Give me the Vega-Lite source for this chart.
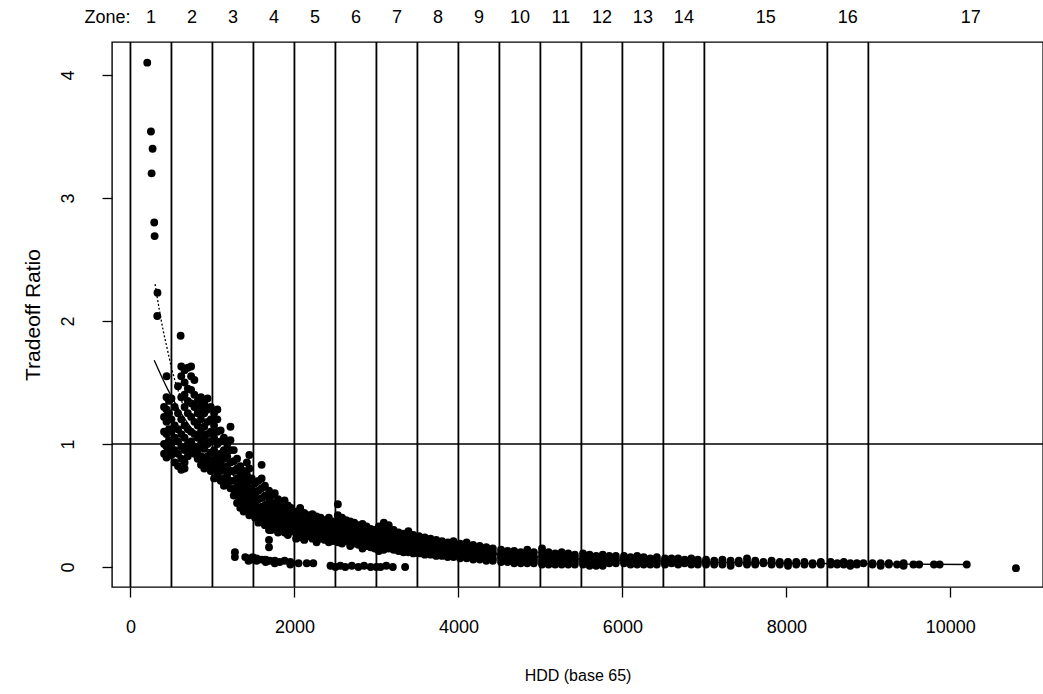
{
  "$schema": "https://vega.github.io/schema/vega-lite/v6.json",
  "width": 931,
  "height": 545,
  "autosize": {"type": "none"},
  "padding": {"left": 112, "top": 42, "right": 0, "bottom": 107},
  "background": "white",
  "config": {
    "view": {"stroke": "black", "strokeWidth": 1.4},
    "font": "Liberation Sans",
    "axis": {"grid": false, "domain": false, "tickColor": "black", "tickSize": 10, "tickWidth": 1.3, "labelColor": "black", "titleColor": "black", "labelFont": "Liberation Sans", "titleFont": "Liberation Sans", "labelFontSize": 18, "titleFontSize": 16, "titleFontWeight": "normal"}
  },
  "datasets": {
    "bounds": [{"hdd":0},{"hdd":500},{"hdd":1000},{"hdd":1500},{"hdd":2000},{"hdd":2500},{"hdd":3000},{"hdd":3500},{"hdd":4000},{"hdd":4500},{"hdd":5000},{"hdd":5500},{"hdd":6000},{"hdd":6500},{"hdd":7000},{"hdd":8500},{"hdd":9000}],
    "zones": [{"zone":"1","mid":250},{"zone":"2","mid":750},{"zone":"3","mid":1250},{"zone":"4","mid":1750},{"zone":"5","mid":2250},{"zone":"6","mid":2750},{"zone":"7","mid":3250},{"zone":"8","mid":3750},{"zone":"9","mid":4250},{"zone":"10","mid":4750},{"zone":"11","mid":5250},{"zone":"12","mid":5750},{"zone":"13","mid":6250},{"zone":"14","mid":6750},{"zone":"15","mid":7750},{"zone":"16","mid":8750},{"zone":"17","mid":10250}],
    "solid": [{"hdd":290,"ratio":1.68},{"hdd":450,"ratio":1.45},{"hdd":600,"ratio":1.27},{"hdd":750,"ratio":1.12},{"hdd":868,"ratio":1.01},{"hdd":1000,"ratio":0.92},{"hdd":1200,"ratio":0.78},{"hdd":1500,"ratio":0.6},{"hdd":2000,"ratio":0.4},{"hdd":2500,"ratio":0.3},{"hdd":3000,"ratio":0.22},{"hdd":3500,"ratio":0.17},{"hdd":4000,"ratio":0.13},{"hdd":5000,"ratio":0.08},{"hdd":6000,"ratio":0.055},{"hdd":7000,"ratio":0.04},{"hdd":8000,"ratio":0.03},{"hdd":9000,"ratio":0.025},{"hdd":10200,"ratio":0.02}],
    "dotted": [{"hdd":300,"ratio":2.3},{"hdd":350,"ratio":2.1},{"hdd":400,"ratio":1.92},{"hdd":450,"ratio":1.77},{"hdd":500,"ratio":1.62},{"hdd":550,"ratio":1.5},{"hdd":600,"ratio":1.4},{"hdd":650,"ratio":1.3},{"hdd":700,"ratio":1.22}],
    "pts": [
{"hdd":205,"ratio":4.1},{"hdd":250,"ratio":3.54},{"hdd":270,"ratio":3.4},{"hdd":258,"ratio":3.2},{"hdd":290,"ratio":2.8},{"hdd":295,"ratio":2.69},{"hdd":330,"ratio":2.23},{"hdd":327,"ratio":2.04},{"hdd":612,"ratio":1.88},{"hdd":441,"ratio":1.55},
{"hdd":410,"ratio":1.3},{"hdd":410,"ratio":1.22},{"hdd":410,"ratio":1.1},{"hdd":410,"ratio":1.0},{"hdd":410,"ratio":0.92},
{"hdd":440,"ratio":1.38},{"hdd":440,"ratio":1.28},{"hdd":440,"ratio":1.18},{"hdd":440,"ratio":1.08},{"hdd":440,"ratio":0.98},{"hdd":440,"ratio":0.89},
{"hdd":470,"ratio":1.35},{"hdd":470,"ratio":1.25},{"hdd":470,"ratio":1.12},{"hdd":470,"ratio":1.03},{"hdd":470,"ratio":0.95},
{"hdd":500,"ratio":1.37},{"hdd":500,"ratio":1.2},{"hdd":500,"ratio":1.1},{"hdd":500,"ratio":1.0},{"hdd":500,"ratio":0.91},
{"hdd":540,"ratio":1.3},{"hdd":540,"ratio":1.15},{"hdd":540,"ratio":1.05},{"hdd":540,"ratio":0.95},{"hdd":540,"ratio":0.85},
{"hdd":580,"ratio":1.47},{"hdd":580,"ratio":1.25},{"hdd":580,"ratio":1.12},{"hdd":580,"ratio":1.02},{"hdd":580,"ratio":0.92},{"hdd":580,"ratio":0.82},
{"hdd":620,"ratio":1.63},{"hdd":620,"ratio":1.55},{"hdd":620,"ratio":1.38},{"hdd":620,"ratio":1.2},{"hdd":620,"ratio":1.08},{"hdd":620,"ratio":0.98},{"hdd":620,"ratio":0.88},{"hdd":620,"ratio":0.79},
{"hdd":660,"ratio":1.6},{"hdd":660,"ratio":1.5},{"hdd":660,"ratio":1.4},{"hdd":660,"ratio":1.3},{"hdd":660,"ratio":1.15},{"hdd":660,"ratio":1.05},{"hdd":660,"ratio":0.95},{"hdd":660,"ratio":0.85},{"hdd":660,"ratio":0.8},
{"hdd":700,"ratio":1.62},{"hdd":700,"ratio":1.45},{"hdd":700,"ratio":1.35},{"hdd":700,"ratio":1.25},{"hdd":700,"ratio":1.12},{"hdd":700,"ratio":1.0},{"hdd":700,"ratio":0.9},
{"hdd":740,"ratio":1.63},{"hdd":740,"ratio":1.55},{"hdd":740,"ratio":1.44},{"hdd":740,"ratio":1.33},{"hdd":740,"ratio":1.22},{"hdd":740,"ratio":1.1},{"hdd":740,"ratio":1.02},{"hdd":740,"ratio":0.95},
{"hdd":780,"ratio":1.52},{"hdd":780,"ratio":1.4},{"hdd":780,"ratio":1.3},{"hdd":780,"ratio":1.18},{"hdd":780,"ratio":1.08},{"hdd":780,"ratio":0.98},{"hdd":780,"ratio":0.92},
{"hdd":820,"ratio":1.35},{"hdd":820,"ratio":1.25},{"hdd":820,"ratio":1.15},{"hdd":820,"ratio":1.05},{"hdd":820,"ratio":0.95},{"hdd":820,"ratio":0.88},
{"hdd":860,"ratio":1.38},{"hdd":860,"ratio":1.3},{"hdd":860,"ratio":1.2},{"hdd":860,"ratio":1.1},{"hdd":860,"ratio":1.0},{"hdd":860,"ratio":0.9},{"hdd":860,"ratio":0.83},
{"hdd":900,"ratio":1.33},{"hdd":900,"ratio":1.25},{"hdd":900,"ratio":1.14},{"hdd":900,"ratio":1.05},{"hdd":900,"ratio":0.96},{"hdd":900,"ratio":0.86},{"hdd":900,"ratio":0.8},
{"hdd":940,"ratio":1.37},{"hdd":940,"ratio":1.28},{"hdd":940,"ratio":1.18},{"hdd":940,"ratio":1.08},{"hdd":940,"ratio":1.0},{"hdd":940,"ratio":0.9},{"hdd":940,"ratio":0.82},
{"hdd":980,"ratio":1.3},{"hdd":980,"ratio":1.2},{"hdd":980,"ratio":1.1},{"hdd":980,"ratio":1.02},{"hdd":980,"ratio":0.93},{"hdd":980,"ratio":0.85},{"hdd":980,"ratio":0.78},
{"hdd":1020,"ratio":1.25},{"hdd":1020,"ratio":1.15},{"hdd":1020,"ratio":1.05},{"hdd":1020,"ratio":0.95},{"hdd":1020,"ratio":0.87},{"hdd":1020,"ratio":0.8},{"hdd":1020,"ratio":0.72},
{"hdd":1060,"ratio":1.28},{"hdd":1060,"ratio":1.2},{"hdd":1060,"ratio":1.1},{"hdd":1060,"ratio":1.0},{"hdd":1060,"ratio":0.9},{"hdd":1060,"ratio":0.82},{"hdd":1060,"ratio":0.75},
{"hdd":1100,"ratio":1.11},{"hdd":1100,"ratio":1.02},{"hdd":1100,"ratio":0.92},{"hdd":1100,"ratio":0.85},{"hdd":1100,"ratio":0.78},{"hdd":1100,"ratio":0.7},
{"hdd":1140,"ratio":1.05},{"hdd":1140,"ratio":0.95},{"hdd":1140,"ratio":0.88},{"hdd":1140,"ratio":0.8},{"hdd":1140,"ratio":0.72},{"hdd":1140,"ratio":0.66},
{"hdd":1180,"ratio":1.0},{"hdd":1180,"ratio":0.9},{"hdd":1180,"ratio":0.82},{"hdd":1180,"ratio":0.75},{"hdd":1180,"ratio":0.68},
{"hdd":1220,"ratio":1.14},{"hdd":1220,"ratio":1.03},{"hdd":1220,"ratio":0.95},{"hdd":1220,"ratio":0.85},{"hdd":1220,"ratio":0.78},{"hdd":1220,"ratio":0.7},{"hdd":1220,"ratio":0.64},
{"hdd":1260,"ratio":0.95},{"hdd":1260,"ratio":0.86},{"hdd":1260,"ratio":0.78},{"hdd":1260,"ratio":0.7},{"hdd":1260,"ratio":0.63},{"hdd":1260,"ratio":0.58},
{"hdd":1300,"ratio":0.88},{"hdd":1300,"ratio":0.8},{"hdd":1300,"ratio":0.72},{"hdd":1300,"ratio":0.65},{"hdd":1300,"ratio":0.58},{"hdd":1300,"ratio":0.52},
{"hdd":1340,"ratio":0.82},{"hdd":1340,"ratio":0.75},{"hdd":1340,"ratio":0.68},{"hdd":1340,"ratio":0.6},{"hdd":1340,"ratio":0.54},{"hdd":1340,"ratio":0.48},
{"hdd":1380,"ratio":0.78},{"hdd":1380,"ratio":0.7},{"hdd":1380,"ratio":0.63},{"hdd":1380,"ratio":0.56},{"hdd":1380,"ratio":0.5},{"hdd":1380,"ratio":0.45},
{"hdd":1420,"ratio":0.85},{"hdd":1420,"ratio":0.75},{"hdd":1420,"ratio":0.66},{"hdd":1420,"ratio":0.58},{"hdd":1420,"ratio":0.52},{"hdd":1420,"ratio":0.46},
{"hdd":1450,"ratio":0.91},{"hdd":1450,"ratio":0.8},{"hdd":1450,"ratio":0.7},{"hdd":1450,"ratio":0.62},{"hdd":1450,"ratio":0.55},{"hdd":1450,"ratio":0.48},{"hdd":1450,"ratio":0.42},
{"hdd":1480,"ratio":0.72},{"hdd":1480,"ratio":0.64},{"hdd":1480,"ratio":0.57},{"hdd":1480,"ratio":0.5},{"hdd":1480,"ratio":0.44},
{"hdd":1520,"ratio":0.68},{"hdd":1520,"ratio":0.6},{"hdd":1520,"ratio":0.52},{"hdd":1520,"ratio":0.46},{"hdd":1520,"ratio":0.4},
{"hdd":1560,"ratio":0.7},{"hdd":1560,"ratio":0.62},{"hdd":1560,"ratio":0.55},{"hdd":1560,"ratio":0.48},{"hdd":1560,"ratio":0.42},{"hdd":1560,"ratio":0.36},
{"hdd":1600,"ratio":0.83},{"hdd":1600,"ratio":0.72},{"hdd":1600,"ratio":0.64},{"hdd":1600,"ratio":0.56},{"hdd":1600,"ratio":0.49},{"hdd":1600,"ratio":0.43},{"hdd":1600,"ratio":0.38},
{"hdd":1640,"ratio":0.66},{"hdd":1640,"ratio":0.58},{"hdd":1640,"ratio":0.5},{"hdd":1640,"ratio":0.44},{"hdd":1640,"ratio":0.39},{"hdd":1640,"ratio":0.34},
{"hdd":1690,"ratio":0.62},{"hdd":1690,"ratio":0.55},{"hdd":1690,"ratio":0.48},{"hdd":1690,"ratio":0.42},{"hdd":1690,"ratio":0.37},{"hdd":1690,"ratio":0.3},{"hdd":1690,"ratio":0.22},{"hdd":1690,"ratio":0.16},
{"hdd":1720,"ratio":0.58},{"hdd":1720,"ratio":0.51},{"hdd":1720,"ratio":0.45},{"hdd":1720,"ratio":0.4},{"hdd":1720,"ratio":0.35},{"hdd":1720,"ratio":0.3},
{"hdd":1760,"ratio":0.6},{"hdd":1760,"ratio":0.52},{"hdd":1760,"ratio":0.46},{"hdd":1760,"ratio":0.4},{"hdd":1760,"ratio":0.35},{"hdd":1760,"ratio":0.31},
{"hdd":1800,"ratio":0.55},{"hdd":1800,"ratio":0.48},{"hdd":1800,"ratio":0.42},{"hdd":1800,"ratio":0.37},{"hdd":1800,"ratio":0.33},{"hdd":1800,"ratio":0.28},
{"hdd":1840,"ratio":0.52},{"hdd":1840,"ratio":0.46},{"hdd":1840,"ratio":0.4},{"hdd":1840,"ratio":0.36},{"hdd":1840,"ratio":0.31},
{"hdd":1880,"ratio":0.54},{"hdd":1880,"ratio":0.47},{"hdd":1880,"ratio":0.41},{"hdd":1880,"ratio":0.36},{"hdd":1880,"ratio":0.32},{"hdd":1880,"ratio":0.28},
{"hdd":1920,"ratio":0.5},{"hdd":1920,"ratio":0.44},{"hdd":1920,"ratio":0.39},{"hdd":1920,"ratio":0.34},{"hdd":1920,"ratio":0.3},{"hdd":1920,"ratio":0.26},
{"hdd":1960,"ratio":0.48},{"hdd":1960,"ratio":0.42},{"hdd":1960,"ratio":0.37},{"hdd":1960,"ratio":0.33},{"hdd":1960,"ratio":0.29},
{"hdd":2020,"ratio":0.45},{"hdd":2020,"ratio":0.4},{"hdd":2020,"ratio":0.35},{"hdd":2020,"ratio":0.31},{"hdd":2020,"ratio":0.27},{"hdd":2020,"ratio":0.23},
{"hdd":2070,"ratio":0.48},{"hdd":2070,"ratio":0.42},{"hdd":2070,"ratio":0.37},{"hdd":2070,"ratio":0.32},{"hdd":2070,"ratio":0.28},{"hdd":2070,"ratio":0.24},
{"hdd":2120,"ratio":0.44},{"hdd":2120,"ratio":0.38},{"hdd":2120,"ratio":0.34},{"hdd":2120,"ratio":0.3},{"hdd":2120,"ratio":0.26},{"hdd":2120,"ratio":0.22},
{"hdd":2170,"ratio":0.42},{"hdd":2170,"ratio":0.37},{"hdd":2170,"ratio":0.33},{"hdd":2170,"ratio":0.29},{"hdd":2170,"ratio":0.25},
{"hdd":2220,"ratio":0.43},{"hdd":2220,"ratio":0.38},{"hdd":2220,"ratio":0.34},{"hdd":2220,"ratio":0.3},{"hdd":2220,"ratio":0.26},{"hdd":2220,"ratio":0.23},
{"hdd":2270,"ratio":0.41},{"hdd":2270,"ratio":0.36},{"hdd":2270,"ratio":0.32},{"hdd":2270,"ratio":0.28},{"hdd":2270,"ratio":0.24},{"hdd":2270,"ratio":0.2},
{"hdd":2320,"ratio":0.4},{"hdd":2320,"ratio":0.35},{"hdd":2320,"ratio":0.31},{"hdd":2320,"ratio":0.27},{"hdd":2320,"ratio":0.23},
{"hdd":2370,"ratio":0.38},{"hdd":2370,"ratio":0.34},{"hdd":2370,"ratio":0.3},{"hdd":2370,"ratio":0.26},{"hdd":2370,"ratio":0.22},
{"hdd":2420,"ratio":0.4},{"hdd":2420,"ratio":0.35},{"hdd":2420,"ratio":0.31},{"hdd":2420,"ratio":0.27},{"hdd":2420,"ratio":0.23},{"hdd":2420,"ratio":0.2},
{"hdd":2470,"ratio":0.37},{"hdd":2470,"ratio":0.33},{"hdd":2470,"ratio":0.29},{"hdd":2470,"ratio":0.25},{"hdd":2470,"ratio":0.21},
{"hdd":2530,"ratio":0.51},{"hdd":2530,"ratio":0.42},{"hdd":2530,"ratio":0.36},{"hdd":2530,"ratio":0.32},{"hdd":2530,"ratio":0.28},{"hdd":2530,"ratio":0.24},{"hdd":2530,"ratio":0.2},
{"hdd":2580,"ratio":0.4},{"hdd":2580,"ratio":0.35},{"hdd":2580,"ratio":0.31},{"hdd":2580,"ratio":0.27},{"hdd":2580,"ratio":0.23},{"hdd":2580,"ratio":0.19},
{"hdd":2630,"ratio":0.38},{"hdd":2630,"ratio":0.33},{"hdd":2630,"ratio":0.29},{"hdd":2630,"ratio":0.25},{"hdd":2630,"ratio":0.21},
{"hdd":2680,"ratio":0.37},{"hdd":2680,"ratio":0.32},{"hdd":2680,"ratio":0.28},{"hdd":2680,"ratio":0.24},{"hdd":2680,"ratio":0.2},{"hdd":2680,"ratio":0.17},
{"hdd":2730,"ratio":0.36},{"hdd":2730,"ratio":0.31},{"hdd":2730,"ratio":0.27},{"hdd":2730,"ratio":0.23},{"hdd":2730,"ratio":0.19},
{"hdd":2780,"ratio":0.34},{"hdd":2780,"ratio":0.3},{"hdd":2780,"ratio":0.26},{"hdd":2780,"ratio":0.22},{"hdd":2780,"ratio":0.18},
{"hdd":2830,"ratio":0.35},{"hdd":2830,"ratio":0.3},{"hdd":2830,"ratio":0.26},{"hdd":2830,"ratio":0.22},{"hdd":2830,"ratio":0.18},{"hdd":2830,"ratio":0.15},
{"hdd":2880,"ratio":0.33},{"hdd":2880,"ratio":0.28},{"hdd":2880,"ratio":0.24},{"hdd":2880,"ratio":0.2},{"hdd":2880,"ratio":0.17},
{"hdd":2930,"ratio":0.31},{"hdd":2930,"ratio":0.27},{"hdd":2930,"ratio":0.23},{"hdd":2930,"ratio":0.19},{"hdd":2930,"ratio":0.16},
{"hdd":2980,"ratio":0.3},{"hdd":2980,"ratio":0.26},{"hdd":2980,"ratio":0.22},{"hdd":2980,"ratio":0.18},{"hdd":2980,"ratio":0.15},
{"hdd":3030,"ratio":0.33},{"hdd":3030,"ratio":0.28},{"hdd":3030,"ratio":0.24},{"hdd":3030,"ratio":0.2},{"hdd":3030,"ratio":0.16},{"hdd":3030,"ratio":0.13},
{"hdd":3090,"ratio":0.36},{"hdd":3090,"ratio":0.3},{"hdd":3090,"ratio":0.25},{"hdd":3090,"ratio":0.21},{"hdd":3090,"ratio":0.17},{"hdd":3090,"ratio":0.14},
{"hdd":3150,"ratio":0.34},{"hdd":3150,"ratio":0.28},{"hdd":3150,"ratio":0.23},{"hdd":3150,"ratio":0.19},{"hdd":3150,"ratio":0.15},
{"hdd":3210,"ratio":0.3},{"hdd":3210,"ratio":0.25},{"hdd":3210,"ratio":0.21},{"hdd":3210,"ratio":0.17},{"hdd":3210,"ratio":0.14},
{"hdd":3270,"ratio":0.28},{"hdd":3270,"ratio":0.24},{"hdd":3270,"ratio":0.2},{"hdd":3270,"ratio":0.16},{"hdd":3270,"ratio":0.13},
{"hdd":3330,"ratio":0.27},{"hdd":3330,"ratio":0.23},{"hdd":3330,"ratio":0.19},{"hdd":3330,"ratio":0.15},{"hdd":3330,"ratio":0.12},
{"hdd":3390,"ratio":0.29},{"hdd":3390,"ratio":0.24},{"hdd":3390,"ratio":0.2},{"hdd":3390,"ratio":0.16},{"hdd":3390,"ratio":0.12},
{"hdd":3450,"ratio":0.26},{"hdd":3450,"ratio":0.22},{"hdd":3450,"ratio":0.18},{"hdd":3450,"ratio":0.14},{"hdd":3450,"ratio":0.11},
{"hdd":3520,"ratio":0.25},{"hdd":3520,"ratio":0.21},{"hdd":3520,"ratio":0.17},{"hdd":3520,"ratio":0.14},{"hdd":3520,"ratio":0.11},
{"hdd":3590,"ratio":0.24},{"hdd":3590,"ratio":0.2},{"hdd":3590,"ratio":0.16},{"hdd":3590,"ratio":0.13},{"hdd":3590,"ratio":0.1},
{"hdd":3660,"ratio":0.23},{"hdd":3660,"ratio":0.19},{"hdd":3660,"ratio":0.16},{"hdd":3660,"ratio":0.13},{"hdd":3660,"ratio":0.1},
{"hdd":3730,"ratio":0.22},{"hdd":3730,"ratio":0.18},{"hdd":3730,"ratio":0.15},{"hdd":3730,"ratio":0.12},{"hdd":3730,"ratio":0.09},
{"hdd":3800,"ratio":0.21},{"hdd":3800,"ratio":0.18},{"hdd":3800,"ratio":0.15},{"hdd":3800,"ratio":0.12},{"hdd":3800,"ratio":0.09},
{"hdd":3870,"ratio":0.2},{"hdd":3870,"ratio":0.17},{"hdd":3870,"ratio":0.14},{"hdd":3870,"ratio":0.11},{"hdd":3870,"ratio":0.08},
{"hdd":3940,"ratio":0.21},{"hdd":3940,"ratio":0.17},{"hdd":3940,"ratio":0.14},{"hdd":3940,"ratio":0.11},{"hdd":3940,"ratio":0.08},
{"hdd":4020,"ratio":0.19},{"hdd":4020,"ratio":0.16},{"hdd":4020,"ratio":0.13},{"hdd":4020,"ratio":0.1},{"hdd":4020,"ratio":0.07},
{"hdd":4100,"ratio":0.2},{"hdd":4100,"ratio":0.16},{"hdd":4100,"ratio":0.13},{"hdd":4100,"ratio":0.1},{"hdd":4100,"ratio":0.07},
{"hdd":4180,"ratio":0.18},{"hdd":4180,"ratio":0.15},{"hdd":4180,"ratio":0.12},{"hdd":4180,"ratio":0.09},{"hdd":4180,"ratio":0.06},
{"hdd":4260,"ratio":0.17},{"hdd":4260,"ratio":0.14},{"hdd":4260,"ratio":0.11},{"hdd":4260,"ratio":0.08},{"hdd":4260,"ratio":0.06},
{"hdd":4340,"ratio":0.16},{"hdd":4340,"ratio":0.13},{"hdd":4340,"ratio":0.1},{"hdd":4340,"ratio":0.08},{"hdd":4340,"ratio":0.05},
{"hdd":4420,"ratio":0.15},{"hdd":4420,"ratio":0.12},{"hdd":4420,"ratio":0.1},{"hdd":4420,"ratio":0.07},{"hdd":4420,"ratio":0.05},
{"hdd":4520,"ratio":0.14},{"hdd":4520,"ratio":0.11},{"hdd":4520,"ratio":0.09},{"hdd":4520,"ratio":0.07},{"hdd":4520,"ratio":0.04},
{"hdd":4600,"ratio":0.13},{"hdd":4600,"ratio":0.11},{"hdd":4600,"ratio":0.08},{"hdd":4600,"ratio":0.06},{"hdd":4600,"ratio":0.04},
{"hdd":4680,"ratio":0.13},{"hdd":4680,"ratio":0.1},{"hdd":4680,"ratio":0.08},{"hdd":4680,"ratio":0.06},{"hdd":4680,"ratio":0.03},
{"hdd":4760,"ratio":0.12},{"hdd":4760,"ratio":0.1},{"hdd":4760,"ratio":0.08},{"hdd":4760,"ratio":0.05},{"hdd":4760,"ratio":0.03},
{"hdd":4840,"ratio":0.14},{"hdd":4840,"ratio":0.11},{"hdd":4840,"ratio":0.08},{"hdd":4840,"ratio":0.05},{"hdd":4840,"ratio":0.03},
{"hdd":4920,"ratio":0.12},{"hdd":4920,"ratio":0.09},{"hdd":4920,"ratio":0.07},{"hdd":4920,"ratio":0.05},{"hdd":4920,"ratio":0.03},
{"hdd":5020,"ratio":0.15},{"hdd":5020,"ratio":0.12},{"hdd":5020,"ratio":0.09},{"hdd":5020,"ratio":0.06},{"hdd":5020,"ratio":0.04},{"hdd":5020,"ratio":0.02},
{"hdd":5100,"ratio":0.12},{"hdd":5100,"ratio":0.09},{"hdd":5100,"ratio":0.07},{"hdd":5100,"ratio":0.05},{"hdd":5100,"ratio":0.02},
{"hdd":5180,"ratio":0.11},{"hdd":5180,"ratio":0.09},{"hdd":5180,"ratio":0.06},{"hdd":5180,"ratio":0.04},{"hdd":5180,"ratio":0.02},
{"hdd":5260,"ratio":0.12},{"hdd":5260,"ratio":0.09},{"hdd":5260,"ratio":0.07},{"hdd":5260,"ratio":0.04},{"hdd":5260,"ratio":0.02},
{"hdd":5340,"ratio":0.11},{"hdd":5340,"ratio":0.08},{"hdd":5340,"ratio":0.06},{"hdd":5340,"ratio":0.04},{"hdd":5340,"ratio":0.02},
{"hdd":5420,"ratio":0.1},{"hdd":5420,"ratio":0.08},{"hdd":5420,"ratio":0.06},{"hdd":5420,"ratio":0.04},{"hdd":5420,"ratio":0.02},
{"hdd":5520,"ratio":0.11},{"hdd":5520,"ratio":0.08},{"hdd":5520,"ratio":0.06},{"hdd":5520,"ratio":0.04},{"hdd":5520,"ratio":0.02},
{"hdd":5600,"ratio":0.1},{"hdd":5600,"ratio":0.08},{"hdd":5600,"ratio":0.06},{"hdd":5600,"ratio":0.03},{"hdd":5600,"ratio":0.01},
{"hdd":5680,"ratio":0.09},{"hdd":5680,"ratio":0.07},{"hdd":5680,"ratio":0.05},{"hdd":5680,"ratio":0.03},{"hdd":5680,"ratio":0.01},
{"hdd":5760,"ratio":0.1},{"hdd":5760,"ratio":0.07},{"hdd":5760,"ratio":0.05},{"hdd":5760,"ratio":0.03},{"hdd":5760,"ratio":0.01},
{"hdd":5840,"ratio":0.09},{"hdd":5840,"ratio":0.07},{"hdd":5840,"ratio":0.05},{"hdd":5840,"ratio":0.03},
{"hdd":5920,"ratio":0.09},{"hdd":5920,"ratio":0.07},{"hdd":5920,"ratio":0.05},{"hdd":5920,"ratio":0.03},
{"hdd":6020,"ratio":0.09},{"hdd":6020,"ratio":0.07},{"hdd":6020,"ratio":0.05},{"hdd":6020,"ratio":0.03},
{"hdd":6100,"ratio":0.08},{"hdd":6100,"ratio":0.06},{"hdd":6100,"ratio":0.04},{"hdd":6100,"ratio":0.02},
{"hdd":6180,"ratio":0.09},{"hdd":6180,"ratio":0.06},{"hdd":6180,"ratio":0.04},{"hdd":6180,"ratio":0.02},
{"hdd":6260,"ratio":0.08},{"hdd":6260,"ratio":0.06},{"hdd":6260,"ratio":0.04},{"hdd":6260,"ratio":0.02},
{"hdd":6340,"ratio":0.07},{"hdd":6340,"ratio":0.05},{"hdd":6340,"ratio":0.03},{"hdd":6340,"ratio":0.02},
{"hdd":6420,"ratio":0.08},{"hdd":6420,"ratio":0.06},{"hdd":6420,"ratio":0.04},{"hdd":6420,"ratio":0.02},
{"hdd":6520,"ratio":0.07},{"hdd":6520,"ratio":0.05},{"hdd":6520,"ratio":0.03},{"hdd":6520,"ratio":0.02},
{"hdd":6600,"ratio":0.07},{"hdd":6600,"ratio":0.05},{"hdd":6600,"ratio":0.03},
{"hdd":6680,"ratio":0.07},{"hdd":6680,"ratio":0.05},{"hdd":6680,"ratio":0.03},{"hdd":6680,"ratio":0.02},
{"hdd":6760,"ratio":0.06},{"hdd":6760,"ratio":0.04},{"hdd":6760,"ratio":0.03},
{"hdd":6840,"ratio":0.07},{"hdd":6840,"ratio":0.05},{"hdd":6840,"ratio":0.03},{"hdd":6840,"ratio":0.02},
{"hdd":6920,"ratio":0.06},{"hdd":6920,"ratio":0.04},{"hdd":6920,"ratio":0.02},
{"hdd":7020,"ratio":0.06},{"hdd":7020,"ratio":0.04},{"hdd":7020,"ratio":0.02},
{"hdd":7120,"ratio":0.05},{"hdd":7120,"ratio":0.03},{"hdd":7120,"ratio":0.02},
{"hdd":7220,"ratio":0.06},{"hdd":7220,"ratio":0.04},{"hdd":7220,"ratio":0.02},
{"hdd":7320,"ratio":0.05},{"hdd":7320,"ratio":0.03},{"hdd":7320,"ratio":0.01},
{"hdd":7420,"ratio":0.05},{"hdd":7420,"ratio":0.03},
{"hdd":7520,"ratio":0.07},{"hdd":7520,"ratio":0.04},{"hdd":7520,"ratio":0.02},
{"hdd":7620,"ratio":0.05},{"hdd":7620,"ratio":0.03},{"hdd":7620,"ratio":0.02},
{"hdd":7720,"ratio":0.04},{"hdd":7720,"ratio":0.03},
{"hdd":7820,"ratio":0.05},{"hdd":7820,"ratio":0.03},{"hdd":7820,"ratio":0.02},
{"hdd":7920,"ratio":0.04},{"hdd":7920,"ratio":0.02},
{"hdd":8020,"ratio":0.04},{"hdd":8020,"ratio":0.03},{"hdd":8020,"ratio":0.01},
{"hdd":8120,"ratio":0.04},{"hdd":8120,"ratio":0.02},
{"hdd":8220,"ratio":0.04},{"hdd":8220,"ratio":0.02},
{"hdd":8320,"ratio":0.03},{"hdd":8320,"ratio":0.02},
{"hdd":8420,"ratio":0.04},{"hdd":8420,"ratio":0.02},
{"hdd":8540,"ratio":0.04},{"hdd":8540,"ratio":0.02},
{"hdd":8620,"ratio":0.03},{"hdd":8620,"ratio":0.02},
{"hdd":8700,"ratio":0.04},{"hdd":8700,"ratio":0.02},
{"hdd":8780,"ratio":0.03},{"hdd":8780,"ratio":0.01},
{"hdd":8860,"ratio":0.03},{"hdd":8860,"ratio":0.02},
{"hdd":8940,"ratio":0.03},
{"hdd":9050,"ratio":0.03},{"hdd":9050,"ratio":0.02},
{"hdd":9150,"ratio":0.03},{"hdd":9150,"ratio":0.01},
{"hdd":9250,"ratio":0.03},{"hdd":9250,"ratio":0.02},
{"hdd":9350,"ratio":0.02},
{"hdd":9430,"ratio":0.03},{"hdd":9430,"ratio":0.01},
{"hdd":9550,"ratio":0.02},{"hdd":9620,"ratio":0.02},{"hdd":9800,"ratio":0.02},{"hdd":9870,"ratio":0.02},
{"hdd":10200,"ratio":0.02},{"hdd":10800,"ratio":-0.01},
{"hdd":1274,"ratio":0.12},{"hdd":1274,"ratio":0.08},{"hdd":1400,"ratio":0.08},{"hdd":1440,"ratio":0.07},{"hdd":1440,"ratio":0.05},{"hdd":1490,"ratio":0.06},{"hdd":1490,"ratio":0.08},{"hdd":1540,"ratio":0.07},{"hdd":1540,"ratio":0.05},{"hdd":1600,"ratio":0.06},{"hdd":1650,"ratio":0.06},{"hdd":1650,"ratio":0.04},{"hdd":1700,"ratio":0.05},{"hdd":1760,"ratio":0.05},{"hdd":1760,"ratio":0.03},{"hdd":1820,"ratio":0.04},{"hdd":1880,"ratio":0.05},{"hdd":1950,"ratio":0.04},{"hdd":1950,"ratio":0.02},{"hdd":2050,"ratio":0.03},{"hdd":2150,"ratio":0.03},{"hdd":2230,"ratio":0.03},
{"hdd":2440,"ratio":0.01},{"hdd":2500,"ratio":0.0},{"hdd":2560,"ratio":0.01},{"hdd":2620,"ratio":0.0},{"hdd":2700,"ratio":0.01},{"hdd":2780,"ratio":0.0},{"hdd":2850,"ratio":0.01},{"hdd":2930,"ratio":0.0},{"hdd":3000,"ratio":0.0},{"hdd":3050,"ratio":0.0},{"hdd":3120,"ratio":0.01},{"hdd":3200,"ratio":0.0},{"hdd":3350,"ratio":0.0}
    ]
  },
  "layer": [
    {
      "data": {"name": "bounds"},
      "mark": {"type": "rule", "color": "black", "strokeWidth": 1.8},
      "encoding": {
        "x": {"field": "hdd", "type": "quantitative", "scale": {"domain": [-225, 11130], "nice": false, "zero": false},
          "axis": {"values": [0, 2000, 4000, 6000, 8000, 10000], "title": "HDD (base 65)", "labelPadding": 30, "labelBaseline": "middle", "titleY": 88, "titleBaseline": "middle", "format": "d"}}
      }
    },
    {
      "data": {"values": [{"r": 1}]},
      "mark": {"type": "rule", "color": "black", "strokeWidth": 1.4},
      "encoding": {
        "y": {"field": "r", "type": "quantitative", "scale": {"domain": [-0.163, 4.268], "nice": false, "zero": false},
          "axis": {"values": [0, 1, 2, 3, 4], "format": "d", "title": "Tradeoff Ratio", "titleFontSize": 21, "labelAngle": 270, "labelAlign": "center", "labelBaseline": "middle", "labelPadding": 34, "titleX": -79, "titleBaseline": "middle"}}
      }
    },
    {
      "data": {"name": "solid"},
      "mark": {"type": "line", "color": "black", "strokeWidth": 1.3, "interpolate": "monotone"},
      "encoding": {
        "x": {"field": "hdd", "type": "quantitative"},
        "y": {"field": "ratio", "type": "quantitative"}
      }
    },
    {
      "data": {"name": "dotted"},
      "mark": {"type": "line", "color": "black", "strokeWidth": 1.3, "strokeDash": [2, 2], "interpolate": "monotone"},
      "encoding": {
        "x": {"field": "hdd", "type": "quantitative"},
        "y": {"field": "ratio", "type": "quantitative"}
      }
    },
    {
      "data": {"name": "pts"},
      "mark": {"type": "circle", "color": "black", "opacity": 1, "size": 62},
      "encoding": {
        "x": {"field": "hdd", "type": "quantitative"},
        "y": {"field": "ratio", "type": "quantitative"}
      }
    },
    {
      "data": {"name": "zones"},
      "mark": {"type": "text", "color": "black", "fontSize": 18, "font": "Liberation Sans", "baseline": "middle", "align": "center"},
      "encoding": {
        "x": {"field": "mid", "type": "quantitative"},
        "y": {"datum": 4.46, "type": "quantitative"},
        "text": {"field": "zone"}
      }
    },
    {
      "data": {"values": [{"label": "Zone:", "pos": 0}]},
      "mark": {"type": "text", "color": "black", "fontSize": 18, "font": "Liberation Sans", "baseline": "middle", "align": "right"},
      "encoding": {
        "x": {"field": "pos", "type": "quantitative"},
        "y": {"datum": 4.46, "type": "quantitative"},
        "text": {"field": "label"}
      }
    }
  ]
}
